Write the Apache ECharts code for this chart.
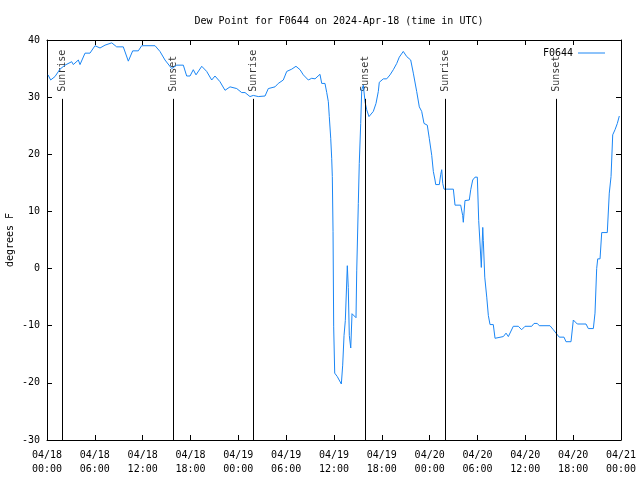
<!DOCTYPE html>
<html><head><meta charset="utf-8">
<script src="https://cdn.jsdelivr.net/npm/echarts@6/dist/echarts.min.js"></script>
<style>html,body{margin:0;padding:0;background:#fff}#c{width:640px;height:480px}</style>
</head><body><div id="c"></div>
<script>
// Hours since 04/18 00:00 UTC
var times = [
 0.13,0.46,1.0,1.63,2.26,3.1,3.3,3.93,4.14,4.77,
 5.39,6.02,6.65,7.28,8.12,8.74,9.57,10.2,10.75,11.45,
 11.88,12.29,13.55,14.17,14.8,15.64,16.27,17.1,17.52,17.94,
 18.35,18.69,19.41,20.03,20.66,21.07,21.7,22.33,22.96,23.8,
 24.42,24.84,25.46,25.88,26.5,27.35,27.76,28.6,29.01,29.64,
 30.07,30.7,31.23,31.74,32.15,32.78,33.2,33.62,34.24,34.46,
 34.87,35.09,35.29,35.41,35.59,35.71,35.79,35.88,35.96,36.09,
 36.41,36.92,37.09,37.26,37.42,37.67,37.79,37.92,38.1,38.26,
 38.51,38.76,38.85,39.05,39.17,39.35,39.48,39.68,39.89,40.1,
 40.39,40.6,40.93,41.27,41.56,41.68,42.19,42.61,43.03,43.44,
 43.87,44.19,44.69,45.12,45.62,45.95,46.37,46.7,47.0,47.29,
 47.7,47.95,48.26,48.46,48.67,48.76,49.21,49.39,49.51,49.64,
 49.8,50.97,51.18,51.89,52.14,52.22,52.43,52.97,53.15,53.4,
 53.69,53.98,54.15,54.32,54.48,54.66,54.73,54.91,55.16,55.36,
 55.57,55.98,56.2,56.41,57.24,57.58,57.87,58.49,59.12,59.54,
 59.96,60.8,61.09,61.5,61.75,63.09,63.51,63.85,64.26,64.85,
 65.1,65.73,66.02,66.52,67.61,67.9,68.53,68.74,68.95,69.08,
 69.37,69.58,70.28,70.53,70.75,70.96,71.25,71.54,71.79
];
var dewPoints = [
 33.9,33.0,33.6,34.9,35.6,36.2,35.7,36.5,35.7,37.7,
 37.7,39.0,38.6,39.1,39.5,38.8,38.8,36.3,38.1,38.1,
 39.0,39.0,39.0,38.0,36.5,35.0,35.6,35.6,33.7,33.7,
 34.8,33.9,35.4,34.5,33.0,33.7,32.7,31.2,31.8,31.5,
 30.8,30.8,30.1,30.3,30.1,30.2,31.5,31.8,32.4,33.0,
 34.5,34.9,35.4,34.8,33.9,33.0,33.3,33.2,34.0,32.4,
 32.4,30.8,29.2,26.6,22.8,19.3,16.1,6.5,-10.2,-18.3,
 -18.9,-20.2,-16.9,-11.7,-9.1,0.5,-3.3,-11.7,-13.9,-7.9,
 -8.2,-8.6,-0.4,11.4,18.4,25.4,31.3,32.1,29.2,27.8,
 26.6,26.6,27.5,28.9,31.0,32.6,33.2,33.2,33.9,34.8,
 35.9,37.0,38.0,37.1,36.5,34.2,31.0,28.3,27.5,25.4,
 25.1,22.8,19.8,17.0,15.5,14.7,14.7,16.5,17.3,14.9,
 13.9,13.9,11.1,11.1,9.3,8.1,11.9,12.0,13.8,15.5,
 16.0,16.0,8.4,4.3,0.2,7.2,4.9,-1.5,-5.0,-8.2,
 -9.8,-9.8,-12.2,-12.0,-11.9,-11.3,-11.9,-10.1,-10.1,-10.7,
 -10.1,-10.1,-9.6,-9.6,-10.0,-10.0,-10.7,-11.3,-12.0,-12.0,
 -12.8,-12.8,-9.0,-9.7,-9.7,-10.5,-10.5,-7.8,0.0,1.7,
 1.7,6.3,6.3,13.2,16.1,23.4,24.3,25.4,26.7
];
var eventNames = ['Sunrise','Sunset','Sunrise','Sunset','Sunrise','Sunset'];
var eventTimes = [1.92, 15.85, 25.88, 39.89, 49.92, 63.85];
var seriesName = 'F0644';
var titleText = 'Dew Point for F0644 on 2024-Apr-18 (time in UTC)';
var yName = 'degrees F';

var FONT = 'DejaVu Sans Mono';
var LINE_TOP = 29.7;
var COLOR = '#1a86f5';
var lineData = times.map(function(t,i){return [t, dewPoints[i]];});
var evData = eventTimes.map(function(t,i){return {name:eventNames[i], value:[t, LINE_TOP]};});
var evLines = eventTimes.map(function(t){return [{coord:[t,-30]},{coord:[t,LINE_TOP]}];});

function fmtX(v){
  var day = 18 + Math.floor(v/24);
  var h = v % 24;
  return '04/' + day + '\n' + (h<10?'0':'') + h + ':00';
}
function axisCommon(){ return {
  axisLine:{show:true, onZero:false, lineStyle:{color:'#000', width:1}},
  axisTick:{show:true, inside:true, length:5, lineStyle:{color:'#000'}},
  splitLine:{show:false}
};}
var chart = echarts.init(document.getElementById('c'), null, {renderer:'canvas'});
chart.setOption({
  animation:false,
  backgroundColor:'#fff',
  title:{text:titleText, left:334, top:11, textAlign:'center',
    textStyle:{fontFamily:FONT, fontSize:10, fontWeight:'normal', color:'#000'}},
  legend:{data:[{name:seriesName, icon:'rect'}], right:30, top:43, align:'right', itemWidth:27, itemHeight:1, itemGap:4,
    textStyle:{fontFamily:FONT, fontSize:10, color:'#000', padding:[0,0,0,0]}},
  grid:{left:47, right:19, top:40, bottom:40, containLabel:false, outerBoundsMode:'none'},
  xAxis:[
    Object.assign({type:'value', min:0, max:72, interval:6, position:'bottom',
      axisLabel:{formatter:fmtX, fontFamily:FONT, fontSize:10, color:'#000', lineHeight:14, margin:8}}, axisCommon()),
    Object.assign({type:'value', min:0, max:72, interval:6, position:'top',
      axisLabel:{show:false}}, axisCommon())
  ],
  yAxis:[
    Object.assign({type:'value', min:-30, max:40, interval:10, position:'left',
      name:yName, nameLocation:'middle', nameGap:32, nameRotate:90, nameMoveOverlap:false,
      nameTextStyle:{fontFamily:FONT, fontSize:10, color:'#000'},
      axisLabel:{fontFamily:FONT, fontSize:10, color:'#000', margin:7}}, axisCommon()),
    Object.assign({type:'value', min:-30, max:40, interval:10, position:'right',
      axisLabel:{show:false}}, axisCommon())
  ],
  series:[
    {name:seriesName, type:'line', data:lineData, symbol:'none', showSymbol:false,
      lineStyle:{color:COLOR, width:1}, itemStyle:{color:COLOR}, z:3},
    {name:'events', type:'scatter', data:evData, symbolSize:0, silent:true,
      label:{show:true, formatter:'{b}', rotate:90, position:'top', distance:7,
        align:'left', verticalAlign:'middle', fontFamily:FONT, fontSize:10, color:'#000'},
      markLine:{silent:true, symbol:['none','none'], label:{show:false},
        lineStyle:{color:'#000', width:1, type:'solid'}, data:evLines}, z:2}
  ]
});
</script></body></html>
